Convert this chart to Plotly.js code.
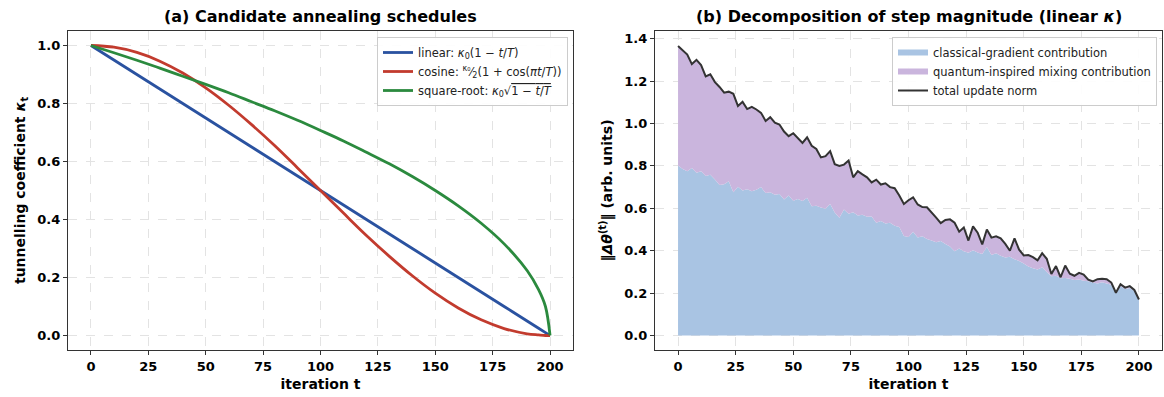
<!DOCTYPE html>
<html><head><meta charset="utf-8">
<script src="https://cdn.plot.ly/plotly-3.0.1.min.js"></script>
<style>html,body{margin:0;padding:0;background:#fff}#chart{width:1164px;height:397px}</style>
</head><body><div id="chart"></div>
<script>
// ---- panel (a): schedules ----
const tSched = [0,10,20,30,40,50,60,70,80,90,100,110,120,130,140,150,160,170,180,190,195,198,200];
const linearK = [1.0,0.95,0.9,0.85,0.8,0.75,0.7,0.65,0.6,0.55,0.5,0.45,0.4,0.35,0.3,0.25,0.2,0.15,0.1,0.05,0.025,0.01,0.0];
const cosineK = [1.0,0.994,0.976,0.946,0.905,0.854,0.794,0.727,0.655,0.578,0.5,0.422,0.345,0.273,0.206,0.146,0.095,0.054,0.024,0.006,0.002,0.0,0.0];
const sqrtK = [1.0,0.975,0.949,0.922,0.894,0.866,0.837,0.806,0.775,0.742,0.707,0.671,0.632,0.592,0.548,0.5,0.447,0.387,0.316,0.224,0.158,0.1,0.0];

// ---- panel (b): step magnitude decomposition ----
const iters = [0,2,4,6,8,10,12,14,16,18,20,22,24,26,28,30,32,34,36,38,40,42,44,46,48,50,52,54,56,58,60,62,64,66,68,70,72,74,76,78,80,82,84,86,88,90,92,94,96,98,100,102,104,106,108,110,112,114,116,118,120,122,124,126,128,130,132,134,136,138,140,142,144,146,148,150,152,154,156,158,160,162,164,166,168,170,172,174,176,178,180,182,184,186,188,190,192,194,196,198,200];
const totalNorm = [1.365,1.347,1.325,1.280,1.300,1.275,1.222,1.232,1.195,1.172,1.145,1.150,1.140,1.082,1.102,1.068,1.078,1.066,1.050,1.012,1.030,1.004,0.995,0.962,0.940,0.954,0.932,0.908,0.935,0.895,0.880,0.840,0.846,0.870,0.808,0.800,0.806,0.825,0.746,0.775,0.760,0.746,0.722,0.735,0.712,0.718,0.700,0.695,0.660,0.620,0.638,0.652,0.618,0.606,0.605,0.582,0.556,0.530,0.545,0.548,0.532,0.490,0.510,0.448,0.515,0.485,0.430,0.500,0.462,0.468,0.458,0.432,0.400,0.458,0.405,0.378,0.380,0.370,0.355,0.388,0.362,0.290,0.328,0.275,0.330,0.292,0.282,0.296,0.288,0.264,0.255,0.266,0.268,0.266,0.250,0.202,0.242,0.226,0.233,0.215,0.170];
const classicalPart = [0.802,0.785,0.775,0.790,0.768,0.775,0.752,0.758,0.736,0.710,0.714,0.728,0.676,0.702,0.684,0.690,0.680,0.688,0.700,0.672,0.676,0.664,0.668,0.642,0.660,0.636,0.644,0.634,0.650,0.610,0.612,0.604,0.598,0.620,0.580,0.556,0.594,0.574,0.582,0.566,0.570,0.560,0.562,0.532,0.540,0.528,0.532,0.518,0.512,0.470,0.465,0.490,0.462,0.468,0.455,0.448,0.440,0.446,0.432,0.420,0.398,0.410,0.398,0.390,0.402,0.392,0.385,0.418,0.380,0.388,0.376,0.368,0.372,0.360,0.352,0.340,0.326,0.318,0.312,0.322,0.300,0.280,0.282,0.270,0.272,0.268,0.262,0.264,0.258,0.256,0.250,0.246,0.252,0.246,0.240,0.200,0.232,0.220,0.224,0.210,0.168];

const xTicks = [0,25,50,75,100,125,150,175,200];

const FONT = 'DejaVu Sans, sans-serif';
const traces = [
  {x:tSched, y:linearK, xaxis:'x', yaxis:'y', mode:'lines', line:{color:'#2a52a0', width:2.8, shape:'spline'},
   name:'linear: <i>κ</i><sub>0</sub>(1 − <i>t</i>/<i>T</i>)', legend:'legend'},
  {x:tSched, y:cosineK, xaxis:'x', yaxis:'y', mode:'lines', line:{color:'#c23b2e', width:2.8, shape:'spline'},
   name:'cosine: <sup>κ₀</sup>⁄<sub>2</sub>(1 + cos(<i>πt</i>/<i>T</i>))', legend:'legend'},
  {x:tSched, y:sqrtK, xaxis:'x', yaxis:'y', mode:'lines', line:{color:'#2b8a3e', width:2.8, shape:'spline'},
   name:'square-root: <i>κ</i><sub>0</sub>√<span style="text-decoration:overline">1 − <i>t</i>/<i>T</i></span>', legend:'legend'},
  {x:iters, y:classicalPart, xaxis:'x2', yaxis:'y2', mode:'none', fill:'tozeroy', fillcolor:'#a9c4e3',
   name:'classical-gradient contribution', legend:'legend2'},
  {x:iters, y:totalNorm, xaxis:'x2', yaxis:'y2', mode:'none', fill:'tonexty', fillcolor:'#cab5dd',
   name:'quantum-inspired mixing contribution', legend:'legend2'},
  {x:iters, y:totalNorm, xaxis:'x2', yaxis:'y2', mode:'lines', line:{color:'#333333', width:2},
   name:'total update norm', legend:'legend2'}
];

const axBase = {
  showline:true, mirror:true, linecolor:'#333', linewidth:1.1,
  ticks:'outside', ticklen:4, tickcolor:'#333',
  showgrid:true, gridcolor:'#e3e3e3', griddash:'dash', gridwidth:1,
  zeroline:false,
  tickfont:{family:FONT, size:13, color:'#000', weight:'bold'}
};
const titleFont = {family:FONT, size:14, weight:'bold', color:'#000'};
const yTop = 1-31/397, yBot = 1-350/397;
const layout = {
  width:1164, height:397, margin:{l:0,r:0,t:0,b:0},
  paper_bgcolor:'#fff', plot_bgcolor:'#fff',
  font:{family:FONT, color:'#000'},
  xaxis:Object.assign({}, axBase, {domain:[68/1164, 573/1164], range:[-10,210], tickvals:xTicks, anchor:'y',
    title:{text:'iteration t', font:titleFont, standoff:6}}),
  yaxis:Object.assign({}, axBase, {domain:[yBot,yTop], range:[-0.05,1.05], tickvals:[0,0.2,0.4,0.6,0.8,1.0], tickformat:'.1f', anchor:'x',
    title:{text:'tunnelling coefficient <i>κ</i><sub>t</sub>', font:titleFont, standoff:8}}),
  xaxis2:Object.assign({}, axBase, {domain:[655/1164, 1162/1164], range:[-10,210], tickvals:xTicks, anchor:'y2',
    title:{text:'iteration t', font:titleFont, standoff:6}}),
  yaxis2:Object.assign({}, axBase, {domain:[yBot,yTop], range:[-0.068,1.436], tickvals:[0,0.2,0.4,0.6,0.8,1.0,1.2,1.4], tickformat:'.1f', anchor:'x2',
    title:{text:'‖<i>Δθ</i><sup>(t)</sup>‖ (arb. units)', font:titleFont, standoff:8}}),
  legend:{x:568/1164, xanchor:'right', y:1-37/397, yanchor:'top', bgcolor:'rgba(255,255,255,0.9)', bordercolor:'#cccccc', borderwidth:1,
    font:{family:FONT, size:11.5, color:'#222'}, tracegroupgap:0, itemwidth:30, traceorder:'normal'},
  legend2:{x:1157/1164, xanchor:'right', y:1-37/397, yanchor:'top', bgcolor:'rgba(255,255,255,0.9)', bordercolor:'#cccccc', borderwidth:1,
    font:{family:FONT, size:11.5, color:'#222'}, tracegroupgap:0, itemwidth:30, traceorder:'normal'},
  showlegend:true,
  annotations:[
    {text:'<b>(a) Candidate annealing schedules</b>', xref:'paper', yref:'paper', x:320.5/1164, y:1-16/397, xanchor:'center', yanchor:'middle', showarrow:false, font:{family:FONT, size:16, color:'#000'}},
    {text:'<b>(b) Decomposition of step magnitude (linear <i>κ</i>)</b>', xref:'paper', yref:'paper', x:908.5/1164, y:1-16/397, xanchor:'center', yanchor:'middle', showarrow:false, font:{family:FONT, size:16, color:'#000'}}
  ]
};
Plotly.newPlot('chart', traces, layout, {staticPlot:true, displayModeBar:false});
</script></body></html>
